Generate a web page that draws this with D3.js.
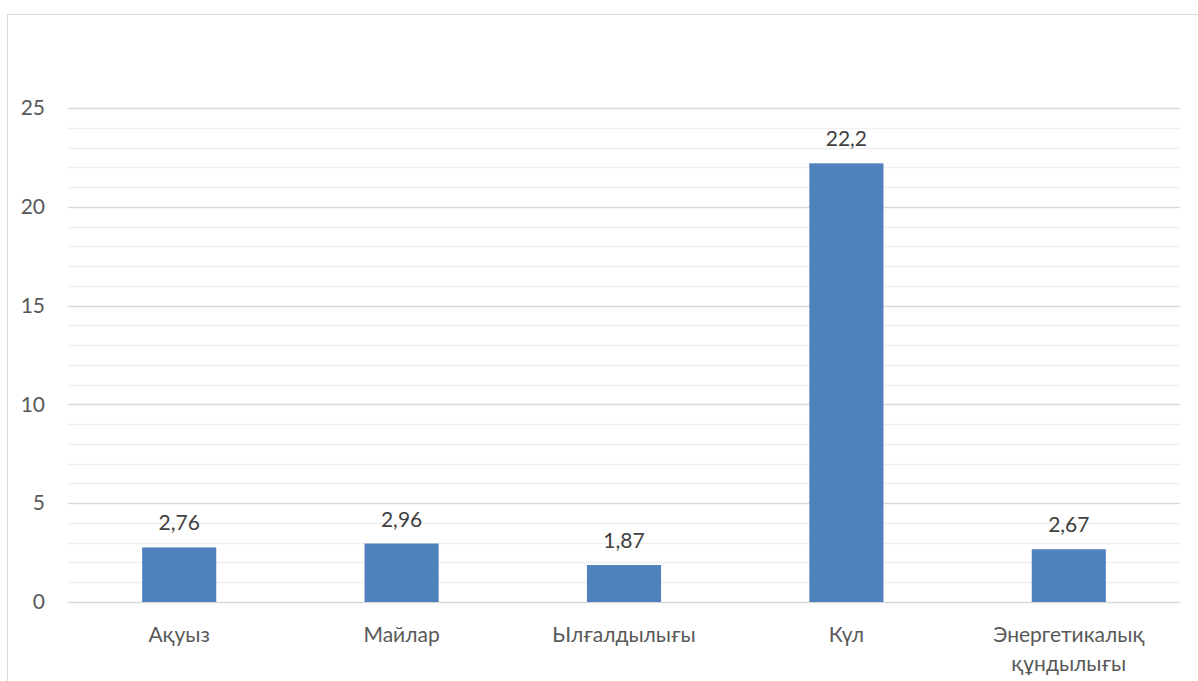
<!DOCTYPE html>
<html>
<head>
<meta charset="utf-8">
<script src="https://cdn.jsdelivr.net/npm/d3@7"></script>
<style>
  html, body { margin: 0; padding: 0; background: #ffffff; }
  svg { display: block; font-family: Lato, "Open Sans", sans-serif; }
</style>
</head>
<body>
<svg id="chart" width="1198" height="681"></svg>
<script>
// Chart values
const categories = ["Ақуыз", "Майлар", "Ылғалдылығы", "Күл", "Энергетикалық құндылығы"];
const values = [2.76, 2.96, 1.87, 22.2, 2.67];
const valueLabels = ["2,76", "2,96", "1,87", "22,2", "2,67"];
const majorTicks = [0, 5, 10, 15, 20, 25];
const minorTicks = d3.range(0, 26, 1);
// Category labels broken onto lines
const categoryLines = [["Ақуыз"], ["Майлар"], ["Ылғалдылығы"], ["Күл"], ["Энергетикалық", "құндылығы"]];

const svg = d3.select("#chart");
const W = 1198, H = 681;
const fontSize = 21;

// Chart area border
svg.append("rect")
  .attr("x", 7.5).attr("y", 14.5)
  .attr("width", W + 20).attr("height", H + 20)
  .attr("fill", "#ffffff")
  .attr("stroke", "#d9d9d9").attr("stroke-width", 1);

const plot = { left: 68, right: 1180, top: 108, bottom: 602 };

// Bars take one third of each category slot
const x = d3.scaleBand()
  .domain(categories)
  .range([plot.left, plot.right])
  .paddingInner(2 / 3)
  .paddingOuter(1 / 3);

const y = d3.scaleLinear()
  .domain([0, 25])
  .range([plot.bottom, plot.top]);

// Minor gridlines
svg.append("g")
  .selectAll("line")
  .data(minorTicks.filter(t => t % 5 !== 0))
  .join("line")
  .attr("x1", plot.left).attr("x2", plot.right)
  .attr("y1", d => Math.round(y(d)) + 0.5).attr("y2", d => Math.round(y(d)) + 0.5)
  .attr("stroke", "#f0f0f0").attr("stroke-width", 1.5);

// Major gridlines
svg.append("g")
  .selectAll("line")
  .data(majorTicks)
  .join("line")
  .attr("x1", plot.left).attr("x2", plot.right)
  .attr("y1", d => Math.round(y(d)) + 0.5).attr("y2", d => Math.round(y(d)) + 0.5)
  .attr("stroke", "#d9d9d9").attr("stroke-width", 1.5);

// Y axis labels
const yAxis = d3.axisLeft(y).tickValues(majorTicks).tickSize(0).tickPadding(0)
  .tickFormat(d3.format("d"));
const gy = svg.append("g").attr("transform", "translate(45,0)").call(yAxis);
gy.select(".domain").remove();
gy.selectAll("text")
  .attr("fill", "#595959")
  .attr("font-size", fontSize)
  .attr("font-family", "Lato, 'Open Sans', sans-serif");

// Bars
svg.append("g")
  .selectAll("rect")
  .data(values)
  .join("rect")
  .attr("x", (d, i) => x(categories[i]))
  .attr("width", x.bandwidth())
  .attr("y", d => y(d))
  .attr("height", d => y(0) - y(d))
  .attr("fill", "#4f81bd");

// Value labels above bars
svg.append("g")
  .selectAll("text")
  .data(values)
  .join("text")
  .attr("x", (d, i) => x(categories[i]) + x.bandwidth() / 2)
  .attr("y", d => y(d) - 17)
  .attr("text-anchor", "middle")
  .attr("fill", "#404040")
  .attr("font-size", fontSize)
  .text((d, i) => valueLabels[i]);

// Category labels
const catG = svg.append("g")
  .selectAll("text")
  .data(categories)
  .join("text")
  .attr("x", d => x(d) + x.bandwidth() / 2)
  .attr("y", 642)
  .attr("text-anchor", "middle")
  .attr("fill", "#595959")
  .attr("font-size", fontSize);
catG.each(function(d, i) {
  const t = d3.select(this);
  categoryLines[i].forEach((line, j) => {
    t.append("tspan")
      .attr("x", x(d) + x.bandwidth() / 2)
      .attr("dy", j === 0 ? 0 : 29)
      .text(line);
  });
});
</script>
</body>
</html>
